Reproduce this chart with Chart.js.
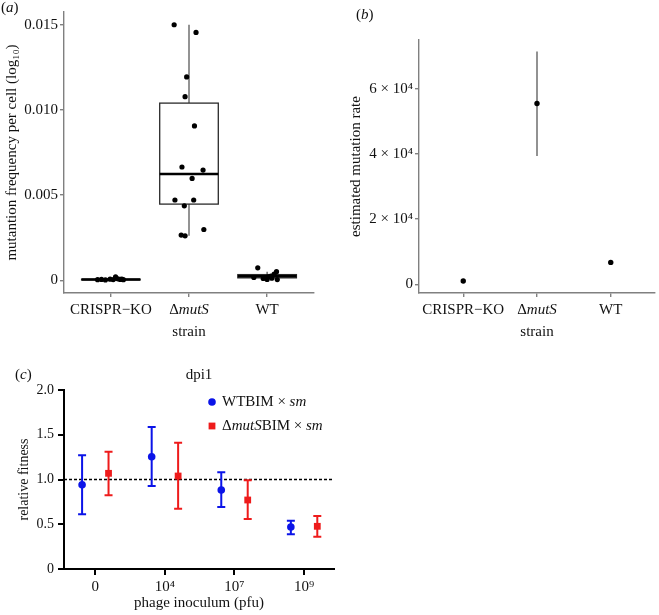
<!DOCTYPE html>
<html>
<head>
<meta charset="utf-8">
<script src="https://cdn.jsdelivr.net/npm/chart.js@4.4.0/dist/chart.umd.min.js"></script>
<style>
  body { margin: 0; background: #fff; }
  #page { position: relative; width: 659px; height: 615px; }
  canvas { position: absolute; }
</style>
</head>
<body>
<div id="page">
  <canvas id="panelA" width="330" height="345" style="left:0;top:0"></canvas>
  <canvas id="panelB" width="329" height="345" style="left:330px;top:0"></canvas>
  <canvas id="panelC" width="345" height="255" style="left:0;top:360px"></canvas>
</div>
<script>
// Categories and tick labels (* toggles italic)
const strains = ['CRISPR−KO', 'Δ*mutS*', 'WT'];
const freqTicks = [0, 0.005, 0.010, 0.015];
const freqTickLabels = ['0', '0.005', '0.010', '0.015'];

// (a) mutation frequency per replicate, jitter = horizontal offset in category units
const koFreq = [0.00003, 0.00005, 0.00002, 0.00006, 0.00004, 0.00020, 0.00008, 0.00005, 0.00003, 0.00006];
const koJitter = [-0.17, -0.12, -0.07, -0.01, 0.03, 0.06, 0.09, 0.12, 0.16, 0.14];
const mutSFreq = [0.01500, 0.01455, 0.01194, 0.01078, 0.00906, 0.00665, 0.00647, 0.00598, 0.00471, 0.00471, 0.00437, 0.00298, 0.00265, 0.00261];
const mutSJitter = [-0.19, 0.09, -0.03, -0.05, 0.07, -0.09, 0.18, 0.04, -0.18, 0.06, -0.06, 0.19, -0.10, -0.05];
const wtFreq = [0.00016, 0.00073, 0.00010, 0.00005, 0.00024, 0.00036, 0.00050, 0.00004, 0.00012, 0.00020];
const wtJitter = [-0.17, -0.12, -0.05, 0.00, 0.05, 0.09, 0.12, 0.13, 0.06, 0.01];

// box plot summaries
const boxLow = [0.00002, 0.00447, 0.00014];
const boxMid = [0.00004, 0.00624, 0.00023];
const boxHigh = [0.00006, 0.01040, 0.00033];
const whiskerLow = [0.00001, 0.00261, 0.00004];
const whiskerHigh = [0.00010, 0.01500, 0.00050];

// (b) estimated mutation rate
const rateEstimate = [1000, 55500, 6700];
const rateLow = [null, 39400, null];
const rateHigh = [null, 71500, null];
const rateTicks = [0, 20000, 40000, 60000];
const rateTickLabels = ['0', '2 × 10⁴', '4 × 10⁴', '6 × 10⁴'];

// (c) relative fitness, dpi1
const inoculum = ['0', '10⁴', '10⁷', '10⁹'];
const seriesNames = ['WTBIM × *sm*', 'Δ*mutS*BIM × *sm*'];
const wtFitness = [0.942, 1.255, 0.883, 0.469];
const wtUpper = [1.270, 1.587, 1.080, 0.540];
const wtLower = [0.611, 0.927, 0.693, 0.387];
const mutSFitness = [1.069, 1.039, 0.771, 0.477];
const mutSUpper = [1.311, 1.412, 0.991, 0.592];
const mutSLower = [0.823, 0.674, 0.559, 0.361];
const fitnessTicks = [0, 0.5, 1.0, 1.5, 2.0];
const fitnessTickLabels = ['0', '0.5', '1.0', '1.5', '2.0'];

// Styles
const serif = '"Liberation Serif", "Times New Roman", serif';
const textColor = '#111';
const axisGrey = '#808080';
const blue = '#0b14e8';
const red = '#ee1b1b';
const dodge = 0.19;

function font(size, style) {
    return { family: serif, size: size, style: style || 'normal', lineHeight: 1.2 };
}

// draw text where *...* parts are italic
function drawRich(ctx, text, x, y, size, align) {
    const parts = text.split('*');
    const fonts = parts.map((_, i) => (i % 2 ? 'italic ' : '') + size + 'px ' + serif);
    let total = 0;
    parts.forEach((p, i) => { ctx.font = fonts[i]; total += ctx.measureText(p).width; });
    let cx = align === 'center' ? x - total / 2 : x;
    ctx.textAlign = 'left';
    parts.forEach((p, i) => {
        ctx.font = fonts[i];
        ctx.fillText(p, cx, y);
        cx += ctx.measureText(p).width;
    });
}

function jitterPoints(values, jitter, index) {
    return values.map((v, i) => ({ x: index + jitter[i], y: v }));
}

// Panel tag like (a), plus optional centred title
const panelTagPlugin = {
    id: 'panelTag',
    afterDraw(chart, args, opts) {
        const ctx = chart.ctx;
        ctx.save();
        ctx.fillStyle = textColor;
        ctx.textBaseline = 'middle';
        drawRich(ctx, opts.text, opts.x, opts.y, 15, 'left');
        if (opts.title) {
            const area = chart.chartArea;
            drawRich(ctx, opts.title, (area.left + area.right) / 2, opts.y, 15, 'center');
        }
        ctx.restore();
    }
};

// Strain labels under the x axis (mixed italic)
const strainLabelPlugin = {
    id: 'strainLabels',
    afterDraw(chart) {
        const { ctx, scales: { x }, chartArea } = chart;
        ctx.save();
        ctx.fillStyle = textColor;
        ctx.textBaseline = 'middle';
        strains.forEach((s, i) => drawRich(ctx, s, x.getPixelForValue(i), chartArea.bottom + 17, 15, 'center'));
        ctx.restore();
    }
};

const boxPlotPlugin = {
    id: 'boxPlot',
    beforeDatasetsDraw(chart) {
        const { ctx, scales: { x, y } } = chart;
        ctx.save();
        strains.forEach((_, i) => {
            const cx = x.getPixelForValue(i);
            const left = x.getPixelForValue(i - 0.375);
            const right = x.getPixelForValue(i + 0.375);
            const top = y.getPixelForValue(boxHigh[i]);
            const bottom = y.getPixelForValue(boxLow[i]);
            // whiskers
            ctx.strokeStyle = '#666';
            ctx.lineWidth = 1.4;
            ctx.beginPath();
            ctx.moveTo(cx, y.getPixelForValue(whiskerHigh[i]));
            ctx.lineTo(cx, top);
            ctx.moveTo(cx, bottom);
            ctx.lineTo(cx, y.getPixelForValue(whiskerLow[i]));
            ctx.stroke();
            // box
            ctx.fillStyle = '#fff';
            ctx.fillRect(left, top, right - left, bottom - top);
            ctx.strokeStyle = '#2a2a2a';
            ctx.lineWidth = 1.3;
            ctx.strokeRect(left, top, right - left, bottom - top);
            // median
            const med = y.getPixelForValue(boxMid[i]);
            ctx.strokeStyle = '#000';
            ctx.lineWidth = 2.5;
            ctx.beginPath();
            ctx.moveTo(left, med);
            ctx.lineTo(right, med);
            ctx.stroke();
        });
        ctx.restore();
    }
};

const rateErrorPlugin = {
    id: 'rateError',
    beforeDatasetsDraw(chart) {
        const { ctx, scales: { x, y } } = chart;
        ctx.save();
        ctx.strokeStyle = '#777';
        ctx.lineWidth = 1.6;
        rateEstimate.forEach((_, i) => {
            if (rateLow[i] === null) return;
            ctx.beginPath();
            ctx.moveTo(x.getPixelForValue(i), y.getPixelForValue(rateHigh[i]));
            ctx.lineTo(x.getPixelForValue(i), y.getPixelForValue(rateLow[i]));
            ctx.stroke();
        });
        ctx.restore();
    }
};

const fitnessSeries = [
    { values: wtFitness, upper: wtUpper, lower: wtLower, color: blue, offset: -dodge },
    { values: mutSFitness, upper: mutSUpper, lower: mutSLower, color: red, offset: dodge }
];

const fitnessPlugin = {
    id: 'fitnessExtras',
    beforeDatasetsDraw(chart) {
        const { ctx, scales: { x, y }, chartArea } = chart;
        ctx.save();
        // reference line at 1
        ctx.strokeStyle = '#000';
        ctx.lineWidth = 1.6;
        ctx.setLineDash([3, 2]);
        ctx.beginPath();
        ctx.moveTo(chartArea.left, y.getPixelForValue(1));
        ctx.lineTo(chartArea.right, y.getPixelForValue(1));
        ctx.stroke();
        ctx.setLineDash([]);
        // error bars with caps
        ctx.lineWidth = 2;
        fitnessSeries.forEach(s => {
            ctx.strokeStyle = s.color;
            s.values.forEach((_, i) => {
                const px = x.getPixelForValue(i + s.offset);
                const hi = y.getPixelForValue(s.upper[i]);
                const lo = y.getPixelForValue(s.lower[i]);
                ctx.beginPath();
                ctx.moveTo(px, hi); ctx.lineTo(px, lo);
                ctx.moveTo(px - 4, hi); ctx.lineTo(px + 4, hi);
                ctx.moveTo(px - 4, lo); ctx.lineTo(px + 4, lo);
                ctx.stroke();
            });
        });
        ctx.restore();
    },
    afterDraw(chart) {
        const { ctx, chartArea } = chart;
        ctx.save();
        ctx.textBaseline = 'middle';
        seriesNames.forEach((name, i) => {
            const mx = chartArea.left + 148;
            const my = chartArea.top + 12 + i * 24;
            ctx.fillStyle = fitnessSeries[i].color;
            if (i === 0) {
                ctx.beginPath();
                ctx.arc(mx, my, 3.8, 0, Math.PI * 2);
                ctx.fill();
            } else {
                ctx.fillRect(mx - 3.4, my - 3.4, 6.8, 6.8);
            }
            ctx.fillStyle = textColor;
            drawRich(ctx, name, mx + 10, my, 15, 'left');
        });
        ctx.restore();
    }
};

function fixedTicks(values) {
    return scale => { scale.ticks = values.map(v => ({ value: v })); };
}

function baseOptions(extra) {
    return Object.assign({
        responsive: false,
        animation: false,
        events: [],
        plugins: { legend: { display: false }, tooltip: { enabled: false } }
    }, extra);
}

// Panel (a)
new Chart(document.getElementById('panelA'), {
    type: 'scatter',
    data: {
        datasets: [
            { data: jitterPoints(koFreq, koJitter, 0) },
            { data: jitterPoints(mutSFreq, mutSJitter, 1) },
            { data: jitterPoints(wtFreq, wtJitter, 2) }
        ].map(d => Object.assign(d, { pointRadius: 2.6, backgroundColor: '#000', borderWidth: 0 }))
    },
    options: baseOptions({
        layout: { padding: { left: 0, top: 12, right: 16, bottom: 0 } },
        plugins: {
            legend: { display: false }, tooltip: { enabled: false },
            panelTag: { text: '(*a*)', x: 1, y: 8 }
        },
        scales: {
            x: {
                type: 'linear', min: -0.6, max: 2.6,
                afterBuildTicks: fixedTicks([0, 1, 2]),
                afterFit: s => { s.height = 52; },
                ticks: { display: false },
                grid: { drawOnChartArea: false, tickLength: 4, color: axisGrey, lineWidth: 1.4 },
                border: { color: axisGrey, width: 1.4 },
                title: { display: true, text: 'strain', font: font(15), color: textColor, padding: { top: 0, bottom: 4 } }
            },
            y: {
                min: -0.00075, max: 0.01575,
                afterBuildTicks: fixedTicks(freqTicks),
                afterFit: s => { s.width = 64; },
                ticks: {
                    font: font(15), color: textColor, padding: 2,
                    callback: v => freqTickLabels[freqTicks.indexOf(v)]
                },
                grid: { drawOnChartArea: false, tickLength: 4, color: axisGrey, lineWidth: 1.4 },
                border: { color: axisGrey, width: 1.4 },
                title: { display: true, text: 'mutantion frequency per cell (log₁₀)', font: font(15), color: textColor, padding: { top: 3, bottom: 0 } }
            }
        }
    }),
    plugins: [boxPlotPlugin, strainLabelPlugin, panelTagPlugin]
});

// Panel (b)
new Chart(document.getElementById('panelB'), {
    type: 'scatter',
    data: {
        datasets: [{
            data: rateEstimate.map((v, i) => ({ x: i, y: v })),
            pointRadius: 2.7, backgroundColor: '#000', borderWidth: 0
        }]
    },
    options: baseOptions({
        layout: { padding: { left: 0, top: 40, right: 1, bottom: 0 } },
        plugins: {
            legend: { display: false }, tooltip: { enabled: false },
            panelTag: { text: '(*b*)', x: 26, y: 15 }
        },
        scales: {
            x: {
                type: 'linear', min: -0.6, max: 2.6,
                afterBuildTicks: fixedTicks([0, 1, 2]),
                afterFit: s => { s.height = 52; },
                ticks: { display: false },
                grid: { drawOnChartArea: false, tickLength: 4, color: axisGrey, lineWidth: 1.4 },
                border: { color: axisGrey, width: 1.4 },
                title: { display: true, text: 'strain', font: font(15), color: textColor, padding: { top: 0, bottom: 4 } }
            },
            y: {
                min: -2700, max: 75000,
                afterBuildTicks: fixedTicks(rateTicks),
                afterFit: s => { s.width = 89; },
                ticks: {
                    font: font(15), color: textColor, padding: 2,
                    callback: v => rateTickLabels[rateTicks.indexOf(v)]
                },
                grid: { drawOnChartArea: false, tickLength: 4, color: axisGrey, lineWidth: 1.4 },
                border: { color: axisGrey, width: 1.4 },
                title: { display: true, text: 'estimated mutation rate', font: font(15), color: textColor, padding: { top: 17, bottom: 0 } }
            }
        }
    }),
    plugins: [rateErrorPlugin, strainLabelPlugin, panelTagPlugin]
});

// Panel (c)
new Chart(document.getElementById('panelC'), {
    type: 'scatter',
    data: {
        datasets: [
            {
                data: wtFitness.map((v, i) => ({ x: i - dodge, y: v })),
                pointStyle: 'circle', pointRadius: 3.8, backgroundColor: blue, borderWidth: 0
            },
            {
                data: mutSFitness.map((v, i) => ({ x: i + dodge, y: v })),
                pointStyle: 'rect', pointRadius: 4.8, backgroundColor: red, borderWidth: 0
            }
        ]
    },
    options: baseOptions({
        layout: { padding: { left: 0, top: 30, right: 11, bottom: 0 } },
        plugins: {
            legend: { display: false }, tooltip: { enabled: false },
            panelTag: { text: '(*c*)', x: 15, y: 15, title: 'dpi1' }
        },
        scales: {
            x: {
                type: 'linear', min: -0.45, max: 3.43,
                afterBuildTicks: fixedTicks([0, 1, 2, 3]),
                afterFit: s => { s.height = 46; },
                ticks: {
                    font: font(15), color: textColor, padding: 3,
                    callback: v => inoculum[v]
                },
                grid: { drawOnChartArea: false, tickLength: 6, color: '#000', lineWidth: 2 },
                border: { color: '#000', width: 2 },
                title: { display: true, text: 'phage inoculum (pfu)', font: font(15), color: textColor, padding: { top: 0, bottom: 3 } }
            },
            y: {
                min: 0, max: 2,
                afterBuildTicks: fixedTicks(fitnessTicks),
                afterFit: s => { s.width = 64; },
                ticks: {
                    font: font(14), color: textColor, padding: 4,
                    callback: v => fitnessTickLabels[fitnessTicks.indexOf(v)]
                },
                grid: { drawOnChartArea: false, tickLength: 6, color: '#000', lineWidth: 2 },
                border: { color: '#000', width: 2 },
                title: { display: true, text: 'relative fitness', font: font(14), color: textColor, padding: { top: 16, bottom: 0 } }
            }
        }
    }),
    plugins: [fitnessPlugin, panelTagPlugin]
});
</script>
</body>
</html>
